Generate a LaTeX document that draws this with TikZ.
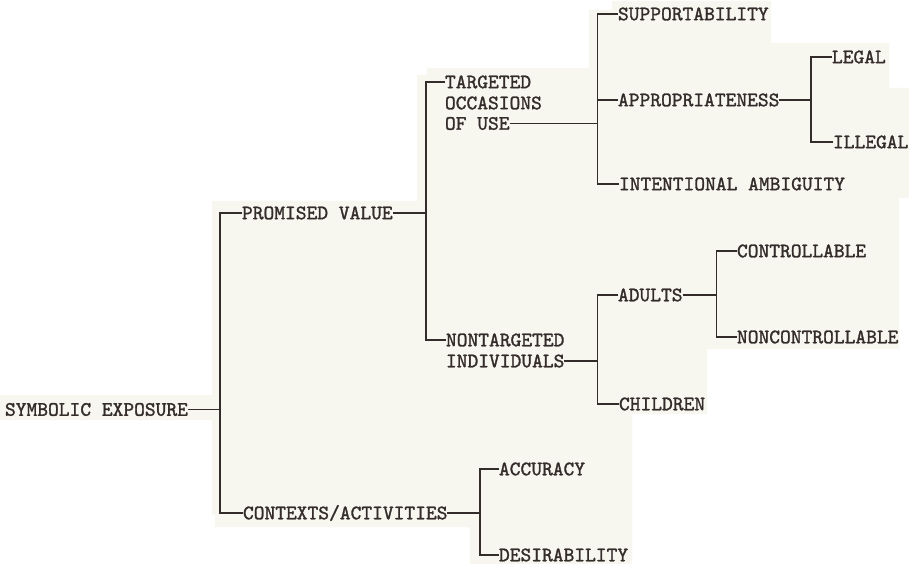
\documentclass[tikz,border=0pt]{standalone}
\usepackage{fontspec}
\setmonofont[FakeBold=1.4]{lmmono10-regular.otf}
\definecolor{ink}{RGB}{52,44,42}
\definecolor{paper}{RGB}{247,246,239}
\begin{document}
\begin{tikzpicture}[x=1bp,y=-1bp,
  lbl/.style={anchor=west,inner sep=0pt,outer sep=0pt,text height=12.5bp,text depth=0pt,
    font=\ttfamily\fontsize{20.5bp}{24bp}\selectfont,text=ink},
  con/.style={draw=ink,line width=1.9bp}]
\useasboundingbox (0,0) rectangle (909,564);
\fill[white] (0,0) rectangle (909,564);
% scanned paper patches
\fill[paper] (212,201) -- (417,201) -- (417,75) -- (427,75) -- (427,68) -- (589,68) -- (589,10)
  -- (612,10) -- (612,1) -- (771,1) -- (771,43) -- (889,43) -- (889,88) -- (909,88) -- (909,198)
  -- (899,198) -- (899,349) -- (707,349) -- (707,414) -- (632,414) -- (632,564) -- (470,564)
  -- (470,527) -- (215,527) -- (215,515) -- (212,515) -- (212,420) -- (0,420) -- (0,395)
  -- (212,395) -- cycle;

% labels
\node[lbl] (se) at (5,409.5) {SYMBOLIC EXPOSURE};
\node[lbl] (pv) at (242,213) {PROMISED VALUE};
\node[lbl] (ca) at (243,513) {CONTEXTS/ACTIVITIES};
\node[lbl] (t1) at (445,82) {TARGETED};
\node[lbl] (t2) at (445,103) {OCCASIONS};
\node[lbl] (t3) at (445,123.5) {OF USE};
\node[lbl] (n1) at (446,340) {NONTARGETED};
\node[lbl] (n2) at (446,361) {INDIVIDUALS};
\node[lbl] (sp) at (618,14) {SUPPORTABILITY};
\node[lbl] (ap) at (618,100) {APPROPRIATENESS};
\node[lbl] (ia) at (619,184) {INTENTIONAL AMBIGUITY};
\node[lbl] (lg) at (832,57) {LEGAL};
\node[lbl] (il) at (833,142) {ILLEGAL};
\node[lbl] (ad) at (618,295) {ADULTS};
\node[lbl] (ch) at (619,404) {CHILDREN};
\node[lbl] (co) at (737,251) {CONTROLLABLE};
\node[lbl] (nc) at (737,337) {NONCONTROLLABLE};
\node[lbl] (ac) at (499,469) {ACCURACY};
\node[lbl] (de) at (499,555) {DESIRABILITY};

% branch points on the vertical bars
\coordinate (b1) at (220,409.5);
\coordinate (b2) at (426,213);
\coordinate (b3) at (597.5,123.5);
\coordinate (b4) at (811,100);
\coordinate (b5) at (597.5,361);
\coordinate (b6) at (716.5,295);
\coordinate (b7) at (480,513);

% connectors
\draw[con] (se.east) -- (b1);
\draw[con] (pv.west) -| (b1);
\draw[con] (ca.west) -| (b1);

\draw[con] (pv.east) -- (b2);
\draw[con] (t1.west) -| (b2);
\draw[con] (n1.west) -| (b2);

\draw[con] (t3.east) -- (b3);
\draw[con] (sp.west) -| (b3);
\draw[con] (ap.west) -| (b3);
\draw[con] (ia.west) -| (b3);

\draw[con] (ap.east) -- (b4);
\draw[con] (lg.west) -| (b4);
\draw[con] (il.west) -| (b4);

\draw[con] (n2.east) -- (b5);
\draw[con] (ad.west) -| (b5);
\draw[con] (ch.west) -| (b5);

\draw[con] (ad.east) -- (b6);
\draw[con] (co.west) -| (b6);
\draw[con] (nc.west) -| (b6);

\draw[con] (ca.east) -- (b7);
\draw[con] (ac.west) -| (b7);
\draw[con] (de.west) -| (b7);
\end{tikzpicture}
\end{document}
